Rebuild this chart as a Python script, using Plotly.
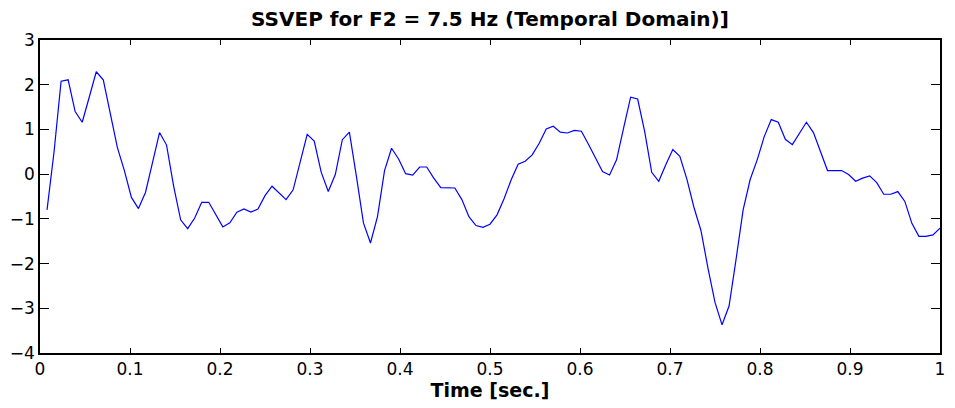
import plotly.graph_objects as go

fs = 128  # sampling rate (Hz)
signal = [
    -0.80, 0.50, 2.08, 2.11, 1.40, 1.16, 1.72, 2.29, 2.11, 1.38,
    0.60, 0.08, -0.52, -0.77, -0.41, 0.26, 0.93, 0.65, -0.26, -1.02,
    -1.22, -0.98, -0.63, -0.63, -0.89, -1.18, -1.09, -0.85, -0.78, -0.85,
    -0.78, -0.48, -0.27, -0.41, -0.57, -0.35, 0.25, 0.89, 0.74, 0.04,
    -0.39, -0.01, 0.77, 0.94, -0.05, -1.09, -1.54, -0.95, 0.08, 0.58,
    0.34, 0.01, -0.02, 0.16, 0.16, -0.09, -0.30, -0.30, -0.31, -0.57,
    -0.95, -1.15, -1.19, -1.12, -0.91, -0.55, -0.13, 0.22, 0.29, 0.43,
    0.69, 1.01, 1.07, 0.94, 0.92, 0.98, 0.96, 0.67, 0.38, 0.06,
    -0.02, 0.32, 1.03, 1.72, 1.68, 0.95, 0.04, -0.16, 0.21, 0.55,
    0.40, -0.11, -0.74, -1.26, -2.10, -2.87, -3.37, -2.95, -1.90, -0.80,
    -0.12, 0.32, 0.84, 1.22, 1.16, 0.78, 0.66, 0.92, 1.16, 0.93,
    0.51, 0.08, 0.08, 0.08, -0.01, -0.16, -0.09, -0.04, -0.19, -0.45,
    -0.45, -0.39, -0.61, -1.10, -1.39, -1.39, -1.36, -1.21,
]
time = [(k + 1) / fs for k in range(len(signal))]

x_ticks = [0, 0.1, 0.2, 0.3, 0.4, 0.5, 0.6, 0.7, 0.8, 0.9, 1]
x_tick_labels = ["0", "0.1", "0.2", "0.3", "0.4", "0.5", "0.6", "0.7", "0.8", "0.9", "1"]
y_ticks = [-4, -3, -2, -1, 0, 1, 2, 3]

title_text = "SSVEP for F2 = 7.5 Hz (Temporal Domain)]"
x_title = "Time [sec.]"

FONT = "DejaVu Sans, Arial, sans-serif"

fig = go.Figure()
fig.add_trace(go.Scatter(
    x=time, y=signal, mode="lines",
    line=dict(color="#0000ff", width=1.2),
    showlegend=False, hoverinfo="skip",
))

fig.update_layout(
    width=955, height=408,
    margin=dict(l=38, r=10, t=40, b=55),
    paper_bgcolor="white", plot_bgcolor="white",
    font=dict(family=FONT, size=17, color="black"),
    title=dict(
        text="<b>" + title_text + "</b>",
        x=0.5, xref="paper", xanchor="center",
        y=1 - 19 / 408, yref="container", yanchor="middle",
        font=dict(family=FONT, size=20, color="black"),
    ),
    xaxis=dict(
        range=[0, 1], tickvals=x_ticks, ticktext=x_tick_labels,
        showgrid=False, zeroline=False,
        showline=True, linecolor="black", linewidth=1.5, mirror="ticks",
        ticks="inside", ticklen=5, tickcolor="black", tickwidth=1,
        tickfont=dict(family=FONT, size=17, color="black"),
        title=dict(text="<b>" + x_title + "</b>", standoff=6,
                   font=dict(family=FONT, size=19, color="black")),
    ),
    yaxis=dict(
        range=[-4, 3], tickvals=y_ticks,
        showgrid=False, zeroline=False,
        showline=True, linecolor="black", linewidth=1.5, mirror="ticks",
        ticks="inside", ticklen=9, tickcolor="black", tickwidth=1,
        tickfont=dict(family=FONT, size=17, color="black"),
    ),
)

fig.write_html("out.html")
